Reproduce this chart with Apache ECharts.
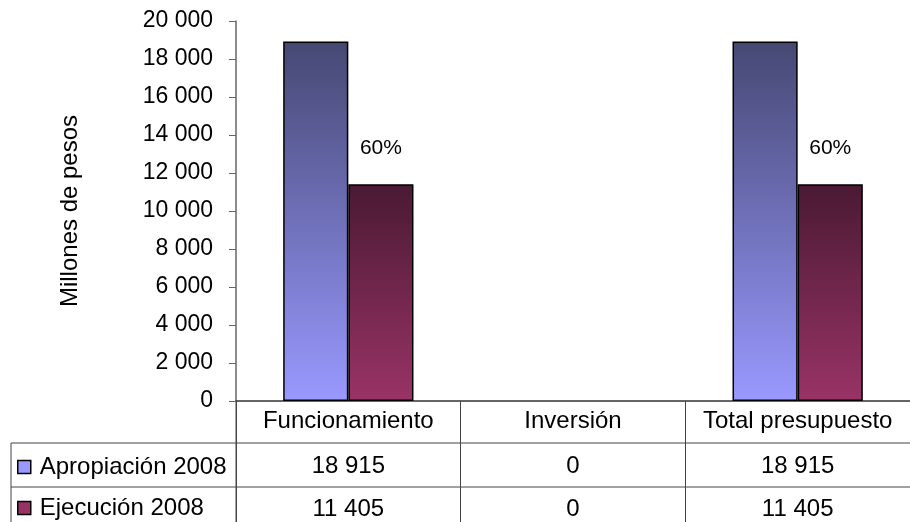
<!DOCTYPE html>
<html style="height: 100%">
<head>
<meta charset="utf-8">
<script src="https://cdn.jsdelivr.net/npm/echarts@6/dist/echarts.min.js"></script>
</head>
<body style="height: 100%; margin: 0; background: #fff">
<div id="container" style="width: 910px; height: 522px"></div>
<script type="text/javascript">
// categorias y valores (millones de pesos)
var categorias = ['Funcionamiento', 'Inversión', 'Total presupuesto'];
var apropiacion = [18915, 0, 18915];
var ejecucion = [11405, 0, 11405];
var nombreSeries = ['Apropiación 2008', 'Ejecución 2008'];

var FONT = 'Liberation Sans, Arial, sans-serif';

// 20000 -> "20 000"
var miles = function (v) {
    return String(v).replace(/\B(?=(\d{3})+(?!\d))/g, ' ');
};

var degradado = function (arriba, abajo) {
    return new echarts.graphic.LinearGradient(0, 0, 0, 1, [
        { offset: 0, color: arriba },
        { offset: 1, color: abajo }
    ]);
};

// barras en cero sin borde (Excel no las dibuja)
var conBorde = function (valores) {
    return valores.map(function (v) {
        return v ? v : { value: v, itemStyle: { borderWidth: 0, opacity: 0 } };
    });
};

var dom = document.getElementById('container');
var myChart = echarts.init(dom);

var filaTabla = function (valores, offset) {
    return {
        type: 'category',
        data: categorias,
        position: 'bottom',
        offset: offset,
        axisLine: { show: false },
        axisTick: { show: false },
        axisLabel: {
            interval: 0,
            margin: 9,
            fontSize: 24,
            fontFamily: FONT,
            color: '#000',
            formatter: function (v, i) { return miles(valores[i]); }
        }
    };
};

var option = {
    backgroundColor: '#fff',
    animation: false,
    grid: { left: 236, right: -11, top: 21, bottom: 121 },
    legend: {
        orient: 'vertical',
        left: 17,
        top: 454,
        padding: 0,
        itemWidth: 13,
        itemHeight: 13,
        itemGap: 15,
        textStyle: { fontSize: 24, fontFamily: FONT, color: '#000', lineHeight: 26, padding: [0, 0, 0, 4] },
        data: [
            { name: nombreSeries[0], icon: 'rect', itemStyle: { color: '#9999FF', borderColor: '#000', borderWidth: 1.5 } },
            { name: nombreSeries[1], icon: 'rect', itemStyle: { color: '#993366', borderColor: '#000', borderWidth: 1.5 } }
        ]
    },
    xAxis: [
        {
            type: 'category',
            data: categorias,
            axisLine: { lineStyle: { color: '#333', width: 1.5 } },
            axisTick: { show: true, interval: 0, length: 121, lineStyle: { color: '#444', width: 1 } },
            axisLabel: { interval: 0, margin: 8, fontSize: 24, fontFamily: FONT, color: '#000' }
        },
        filaTabla(apropiacion, 44),
        filaTabla(ejecucion, 87)
    ],
    yAxis: {
        type: 'value',
        min: 0,
        max: 20000,
        interval: 2000,
        name: 'Millones de pesos',
        nameLocation: 'middle',
        nameGap: 154,
        nameTextStyle: { fontSize: 24, fontFamily: FONT, color: '#000' },
        axisLine: { show: true, lineStyle: { color: '#666', width: 1.5 } },
        axisTick: { show: true, length: 7, lineStyle: { color: '#666' } },
        axisLabel: {
            margin: 23,
            fontSize: 23,
            fontFamily: FONT,
            color: '#000',
            formatter: function (v) { return miles(v); }
        },
        splitLine: { show: false }
    },
    graphic: [
        { type: 'line', shape: { x1: 11, y1: 443, x2: 910, y2: 443 }, style: { stroke: '#444', lineWidth: 1 } },
        { type: 'line', shape: { x1: 11, y1: 487, x2: 910, y2: 487 }, style: { stroke: '#444', lineWidth: 1 } },
        { type: 'line', shape: { x1: 11, y1: 443, x2: 11, y2: 522 }, style: { stroke: '#444', lineWidth: 1 } },
        { type: 'line', shape: { x1: 236, y1: 401, x2: 236, y2: 522 }, style: { stroke: '#444', lineWidth: 1 } }
    ],
    series: [
        {
            name: nombreSeries[0],
            type: 'bar',
            barGap: 0,
            barCategoryGap: '42%',
            data: conBorde(apropiacion),
            itemStyle: { color: degradado('#464873', '#9999FF'), borderColor: '#000', borderWidth: 1.5 }
        },
        {
            name: nombreSeries[1],
            type: 'bar',
            data: conBorde(ejecucion),
            itemStyle: { color: degradado('#4A1A33', '#993366'), borderColor: '#000', borderWidth: 1.5 },
            label: {
                show: true,
                position: 'top',
                distance: 26,
                fontSize: 21,
                fontFamily: FONT,
                color: '#000',
                formatter: function (p) {
                    var a = apropiacion[p.dataIndex];
                    return a ? Math.round(p.value / a * 100) + '%' : '';
                }
            }
        }
    ]
};

myChart.setOption(option);
</script>
</body>
</html>
